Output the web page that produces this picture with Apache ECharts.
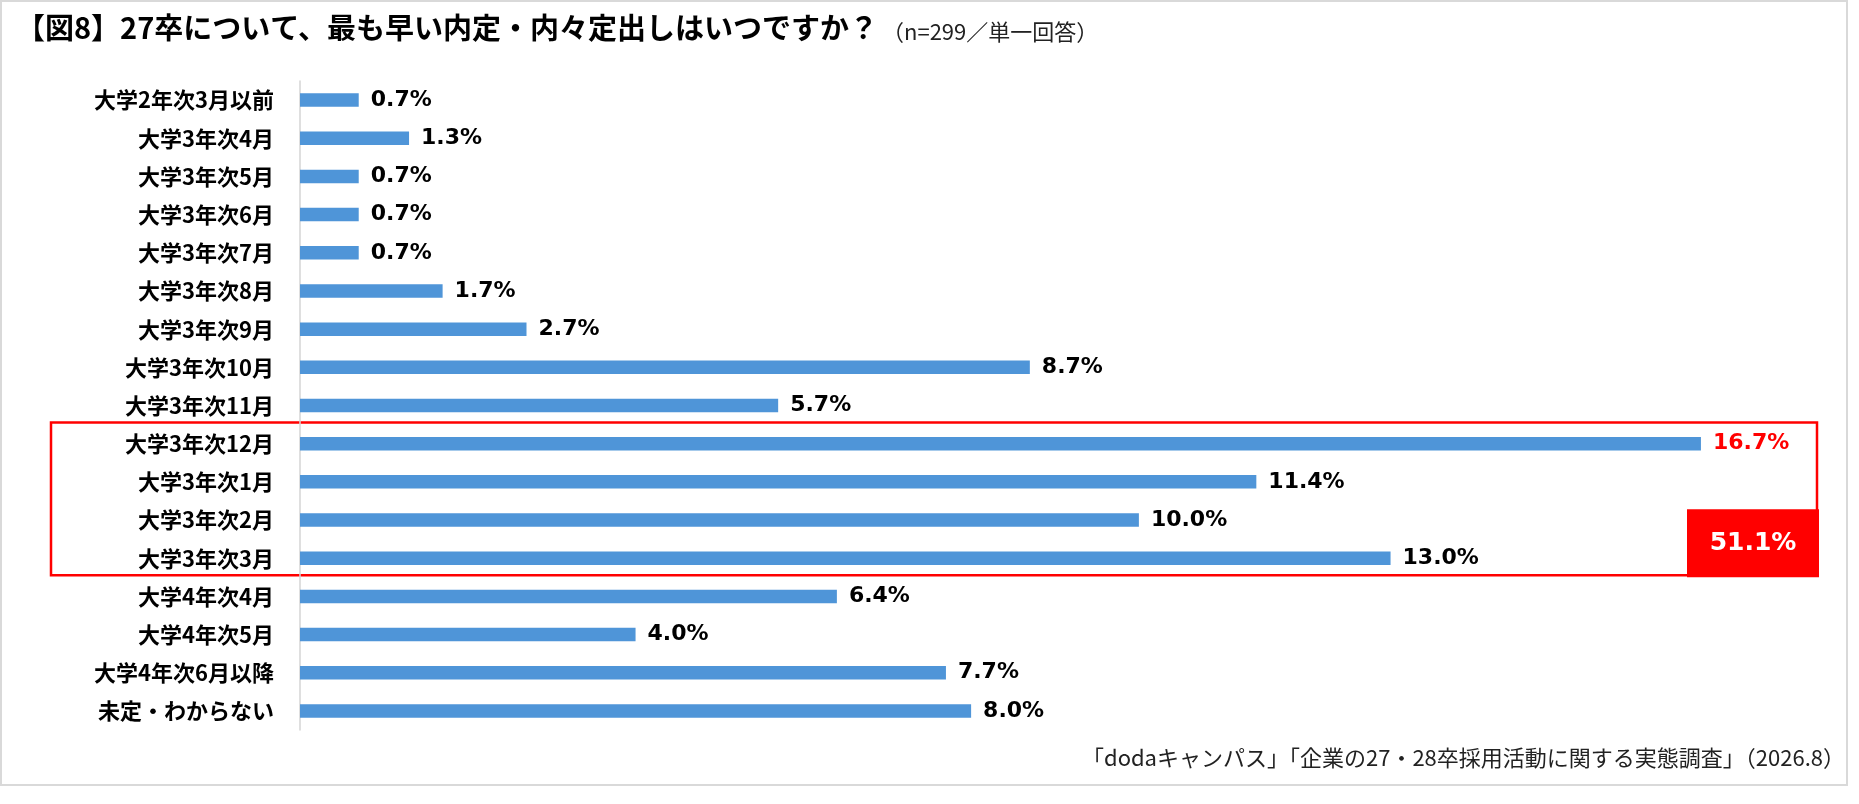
<!DOCTYPE html>
<html>
<head>
<meta charset="utf-8">
<script src="https://cdn.jsdelivr.net/npm/echarts@6/dist/echarts.min.js"></script>
<style>
  html, body { margin: 0; padding: 0; background: #fff; }
  #main { width: 1859px; height: 804px; }
</style>
</head>
<body>
<div id="main"></div>
<script>
// カテゴリと値（%）
var categories = ['大学2年次3月以前','大学3年次4月','大学3年次5月','大学3年次6月','大学3年次7月',
  '大学3年次8月','大学3年次9月','大学3年次10月','大学3年次11月','大学3年次12月',
  '大学3年次1月','大学3年次2月','大学3年次3月','大学4年次4月','大学4年次5月',
  '大学4年次6月以降','未定・わからない'];
var values = [0.7, 1.3, 0.7, 0.7, 0.7, 1.7, 2.7, 8.7, 5.7, 16.7, 11.4, 10.0, 13.0, 6.4, 4.0, 7.7, 8.0];
var highlightIdx = [9, 10, 11, 12];   // 12月〜3月
var highlightTotal = '51.1%';

var titleText = '【図8】27卒について、最も早い内定・内々定出しはいつですか？';
var subText = '（n=299／単一回答）';
var footText = '「dodaキャンパス」「企業の27・28卒採用活動に関する実態調査」（2026.8）';

var JP = '"Noto Sans CJK JP", sans-serif';
var NUM = '"DejaVu Sans", "Noto Sans CJK JP", sans-serif';

var barData = values.map(function (v, i) {
  var item = { value: v };
  if (i === 9) item.label = { color: '#ff0000' };   // 最大値は赤
  return item;
});

var myChart = echarts.init(document.getElementById('main'));

var option = {
  animation: false,
  grid: { left: 300, top: 81, width: 1510, height: 649 },
  xAxis: {
    type: 'value', min: 0, max: 18,
    show: false
  },
  yAxis: {
    type: 'category',
    inverse: true,
    data: categories,
    axisLine: { show: true, lineStyle: { color: '#d4d4d4', width: 1.5 } },
    axisTick: { show: false },
    axisLabel: { margin: 26, fontSize: 22, fontWeight: 'bold', color: '#000', fontFamily: JP }
  },
  series: [{
    type: 'bar',
    data: barData,
    barWidth: 13.5,
    itemStyle: { color: '#4f95d8' },
    label: {
      show: true, position: 'right', distance: 12,
      formatter: function (p) { return p.value.toFixed(1) + '%'; },
      fontSize: 22, fontWeight: 'bold', color: '#000', fontFamily: NUM
    }
  }],
  graphic: [
    { type: 'rect', shape: { x: 1, y: 1, width: 1846, height: 784 },
      style: { fill: 'none', stroke: '#d9d9d9', lineWidth: 2 } },
    { type: 'text', left: 16, top: 13,
      style: { text: titleText, fontSize: 29, fontWeight: 'bold', fill: '#000', fontFamily: JP } },
    { type: 'text', left: 882, top: 21,
      style: { text: subText, fontSize: 22, fill: '#222', fontFamily: JP } },
    { type: 'text', right: 14, top: 747,
      style: { text: footText, fontSize: 22, fill: '#222', fontFamily: JP } }
  ]
};
myChart.setOption(option);

// 強調枠：カテゴリ位置から算出
var y0 = myChart.convertToPixel({ yAxisIndex: 0 }, categories[highlightIdx[0]]);
var y1 = myChart.convertToPixel({ yAxisIndex: 0 }, categories[highlightIdx[highlightIdx.length - 1]]);
var band = 649 / categories.length;
var boxTop = y0 - band / 2 - 2;
var boxBottom = y1 + band / 2 - 2;
myChart.setOption({
  graphic: option.graphic.concat([
    { type: 'rect', shape: { x: 51, y: boxTop, width: 1766, height: boxBottom - boxTop },
      style: { fill: 'none', stroke: '#ff0000', lineWidth: 2.5 } },
    { type: 'rect', shape: { x: 1687, y: boxBottom - 66, width: 132, height: 68 },
      style: { fill: '#ff0000' } },
    { type: 'text', x: 1753, y: boxBottom - 32,
      style: { text: highlightTotal, fontSize: 25, fontWeight: 'bold', fill: '#fff',
               fontFamily: NUM, align: 'center', verticalAlign: 'middle' } }
  ])
});
</script>
</body>
</html>
